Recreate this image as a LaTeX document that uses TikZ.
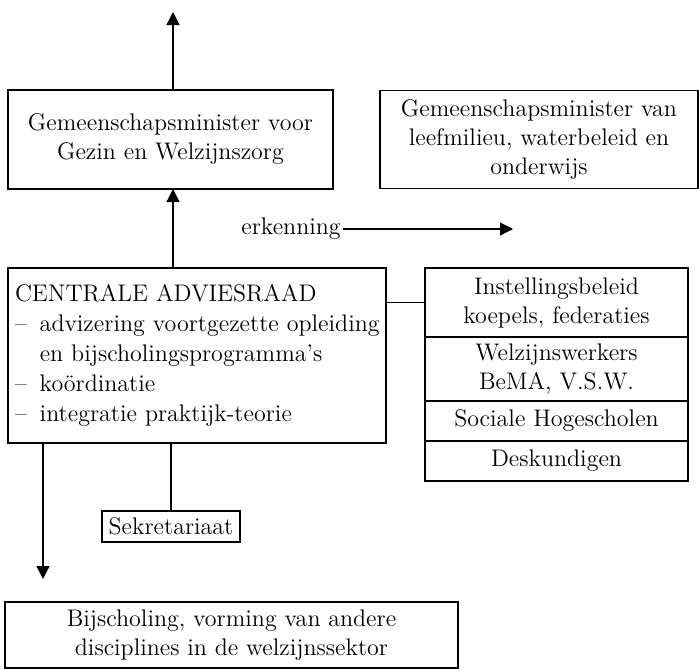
\documentclass[tikz,border=0pt]{standalone}
\usepackage{tikz}
\usetikzlibrary{arrows.meta}
\usetikzlibrary{positioning}
\tikzstyle{kader}=[draw=black,line width=0.6pt,align=center,inner sep=2pt,outer sep=0pt]
\tikzstyle{lijn}=[line width=0.6pt]
\tikzstyle{pijl}=[line width=0.6pt,-{Triangle[length=6.5pt,width=6.5pt]}]

\begin{document}
\begin{tikzpicture}[x=0.5pt,y=-0.5pt,font=\fontsize{12}{14.5}\selectfont]
      \useasboundingbox (0,0) rectangle (699,669);

      \node[kader,minimum width=162.5pt,minimum height=49.5pt] (gezin) at (170.5,139.5)
        {Gemeenschapsminister voor\\Gezin en Welzijnszorg};
      \node[kader,minimum width=159pt,minimum height=49pt] (milieu) at (539,139.5)
        {Gemeenschapsminister van\\leefmilieu, waterbeleid en\\onderwijs};

      \node[inner sep=1pt] (erk) at (291,229) {erkenning};
      \coordinate (erktip) at (513,229);

      \node[kader,minimum width=189pt,minimum height=87.5pt,text width=182pt,align=left,inner sep=3.5pt] (raad) at (197,355.5)
        {\def\arraystretch{1.04}\begin{tabular}{@{}l@{\hspace{6.5pt}}l@{}}
          \multicolumn{2}{@{}l}{CENTRALE ADVIESRAAD}\\
          -- & advizering voortgezette opleiding\\
             & en bijscholingsprogramma’s\\
          -- & koördinatie\\
          -- & integratie praktijk-teorie
        \end{tabular}};

      % rechter kolom
      \node[kader,minimum width=131.5pt,minimum height=34.5pt] (cel1) at (556.5,302.5)
        {Instellingsbeleid\\koepels, federaties};
      \node[kader,minimum width=131.5pt,minimum height=32pt,below=0pt of cel1] (cel2)
        {Welzijnswerkers\\BeMA, V.S.W.};
      \node[kader,minimum width=131.5pt,minimum height=20pt,below=0pt of cel2] (cel3)
        {Sociale Hogescholen};
      \node[kader,minimum width=131.5pt,minimum height=20pt,below=0pt of cel3] (cel4)
        {Deskundigen};

      \node[kader,minimum width=69pt,minimum height=15.5pt,inner sep=1pt] (sekr) at (171,526.5) {Sekretariaat};

      \node[kader,minimum width=226.5pt,minimum height=33pt] (bijsch) at (231.5,635)
        {Bijscholing, vorming van andere\\disciplines in de welzijnssektor};

      \coordinate (boven) at (173,12);
      \coordinate (onder) at (43,579);

      \draw[pijl] (boven |- gezin.north) -- (boven);
      \draw[pijl] (boven |- raad.north) -- (boven |- gezin.south);
      \draw[pijl] (erk.east) -- (erktip);
      \draw[lijn] (raad.east |- cel1.west) -- (cel1.west);
      \draw[lijn] (sekr.north |- raad.south) -- (sekr.north);
      \draw[pijl] (onder |- raad.south) -- (onder);
    \end{tikzpicture}
\end{document}
